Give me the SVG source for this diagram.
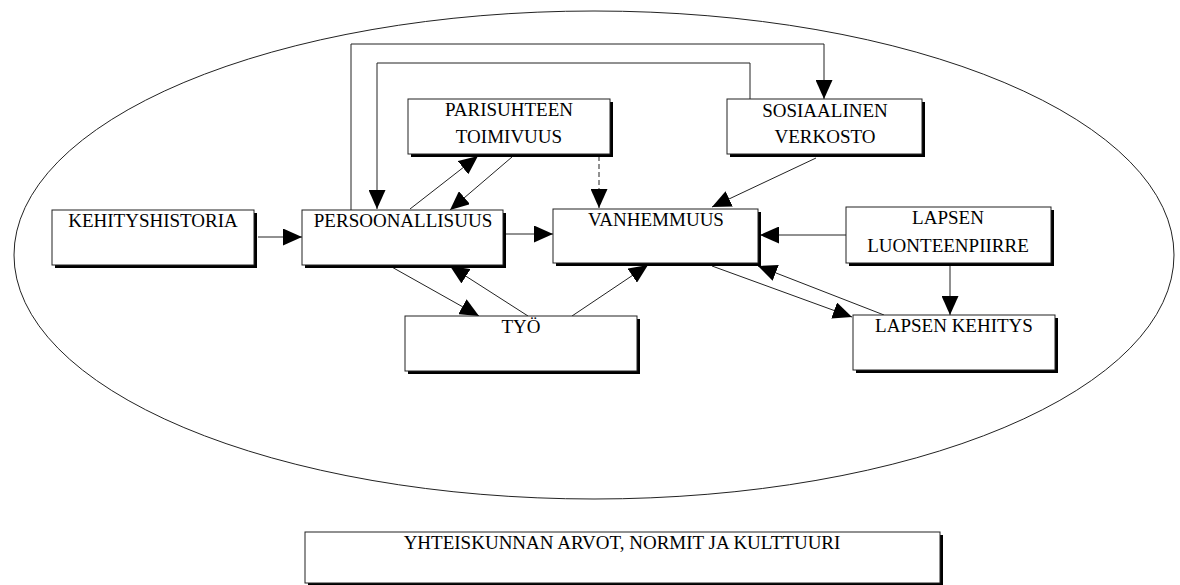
<svg xmlns="http://www.w3.org/2000/svg" width="1180" height="585" viewBox="0 0 1180 585">
<defs>
<marker id="ah" markerUnits="userSpaceOnUse" viewBox="0 0 19 17" markerWidth="19" markerHeight="17" refX="19" refY="8.5" orient="auto">
<path d="M0,0 L19,8.5 L0,17 Z" fill="#000"/>
</marker>
<style>
.sh{fill:#000}
.bx{fill:#fff;stroke:#222;stroke-width:1}
.t{font-family:"Liberation Serif","Times New Roman",serif;font-size:19px;fill:#000;text-anchor:middle}
.c{fill:none;stroke:#222;stroke-width:1}
.a{marker-end:url(#ah)}
.d{stroke-dasharray:5 3}
</style>
</defs>
<rect x="0" y="0" width="1180" height="585" fill="#fff"/>
<ellipse cx="594" cy="255" rx="580" ry="244" fill="none" stroke="#222" stroke-width="1"/>

<g id="connectors">
<polyline class="c a" points="351,210 351,44 824,44 824,99"/>
<polyline class="c a" points="750,99 750,63 377,63 377,209"/>
<line class="c a" x1="258" y1="237" x2="302" y2="237"/>
<line class="c a" x1="506" y1="234" x2="553" y2="234"/>
<line class="c a" x1="846" y1="235" x2="760" y2="235"/>
<line class="c a" x1="950" y1="266" x2="950" y2="315"/>
<line class="c a d" x1="599" y1="156" x2="599" y2="208"/>
<line class="c a" x1="410" y1="209" x2="478" y2="156"/>
<line class="c a" x1="512" y1="157" x2="450" y2="210"/>
<line class="c a" x1="816" y1="158" x2="712" y2="207"/>
<line class="c a" x1="390" y1="266" x2="479" y2="316"/>
<line class="c a" x1="528" y1="316" x2="450" y2="266"/>
<line class="c a" x1="572" y1="316" x2="648" y2="265"/>
<line class="c a" x1="712" y1="266" x2="852" y2="317"/>
<line class="c a" x1="884" y1="315" x2="758" y2="266"/>
</g>

<g id="kehityshistoria">
<rect class="sh" x="55" y="213" width="202" height="55"/>
<rect class="bx" x="52" y="210" width="202" height="55"/>
<text class="t" x="153" y="227">KEHITYSHISTORIA</text>
</g>
<g id="persoonallisuus">
<rect class="sh" x="305" y="213" width="201" height="55"/>
<rect class="bx" x="302" y="210" width="201" height="55"/>
<text class="t" x="403" y="227">PERSOONALLISUUS</text>
</g>
<g id="vanhemmuus">
<rect class="sh" x="556" y="212" width="205" height="54"/>
<rect class="bx" x="553" y="209" width="205" height="54"/>
<text class="t" x="656" y="226">VANHEMMUUS</text>
</g>
<g id="parisuhteen">
<rect class="sh" x="411" y="102" width="202" height="55"/>
<rect class="bx" x="408" y="99" width="202" height="55"/>
<text class="t" x="509" y="116">PARISUHTEEN</text>
<text class="t" x="509" y="143">TOIMIVUUS</text>
</g>
<g id="sosiaalinen">
<rect class="sh" x="730" y="102" width="195" height="55"/>
<rect class="bx" x="727" y="99" width="195" height="55"/>
<text class="t" x="825" y="117">SOSIAALINEN</text>
<text class="t" x="825" y="143">VERKOSTO</text>
</g>
<g id="lapsen-luonteenpiirre">
<rect class="sh" x="849" y="210" width="205" height="56"/>
<rect class="bx" x="846" y="207" width="205" height="56"/>
<text class="t" x="948" y="224">LAPSEN</text>
<text class="t" x="948" y="252">LUONTEENPIIRRE</text>
</g>
<g id="tyo">
<rect class="sh" x="408" y="319" width="232" height="55"/>
<rect class="bx" x="405" y="316" width="232" height="55"/>
<text class="t" x="521" y="333">TYÖ</text>
</g>
<g id="lapsen-kehitys">
<rect class="sh" x="856" y="318" width="202" height="55"/>
<rect class="bx" x="853" y="315" width="202" height="55"/>
<text class="t" x="954" y="332">LAPSEN KEHITYS</text>
</g>
<g id="yhteiskunnan">
<rect class="sh" x="308" y="535" width="635" height="50"/>
<rect class="bx" x="305" y="532" width="635" height="51"/>
<text class="t" x="622" y="549">YHTEISKUNNAN ARVOT, NORMIT JA KULTTUURI</text>
</g>
</svg>
